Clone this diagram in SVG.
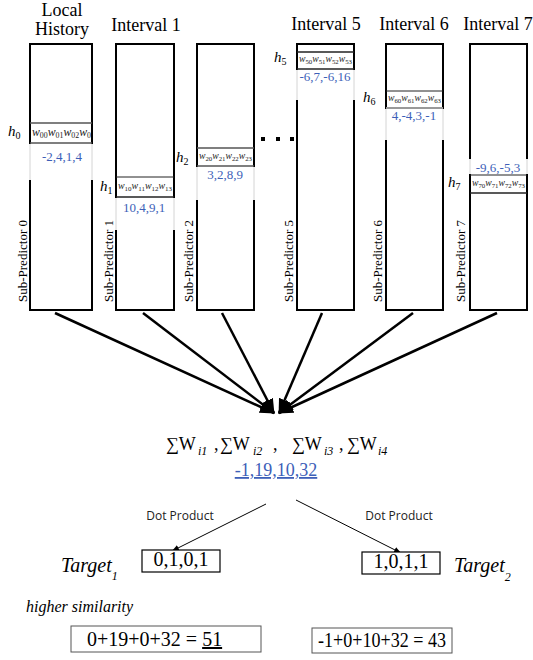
<svg xmlns="http://www.w3.org/2000/svg" width="533" height="660" viewBox="0 0 533 660">
<defs>
<marker id="ah" markerUnits="userSpaceOnUse" markerWidth="15" markerHeight="12" refX="14" refY="6" orient="auto"><path d="M0,0 L15,6 L0,12 z" fill="#000"/></marker>
<marker id="as" markerUnits="userSpaceOnUse" markerWidth="7" markerHeight="6" refX="7" refY="3" orient="auto"><path d="M0,0 L7,3 L0,6 z" fill="#000"/></marker>
</defs>
<style>
.col{fill:#fff;stroke:#000;stroke-width:2}
.rl{stroke:#555;stroke-width:1.5}
.gap{fill:#fff;stroke:none}
.gl{stroke:#d4d4d4;stroke-width:1}
.hd{font-family:"Liberation Serif",serif;font-size:18px;text-anchor:middle;fill:#000}
.sp{font-family:"Liberation Serif",serif;font-size:13px;fill:#000}
.bl{font-family:"Liberation Serif",serif;font-size:13px;fill:#3d5fb8;text-anchor:middle}
.w{font-family:"Liberation Serif",serif;font-style:italic;fill:#222}
.s{font-style:normal}
.h{font-family:"Liberation Serif",serif;font-style:italic;font-size:15px;fill:#000}
.conn{stroke:#000;stroke-width:2.5;fill:none;marker-end:url(#ah)}
.dp{stroke:#000;stroke-width:1;fill:none;marker-end:url(#as)}
.lbl{font-family:"Open Sans",sans-serif;font-size:12px;fill:#222;text-anchor:middle}
.f{font-family:"Liberation Serif",serif;font-size:18px;fill:#000}
.fs{font-family:"Liberation Serif",serif;font-size:12px;font-style:italic;fill:#000}
.tg{font-family:"Liberation Serif",serif;font-size:20px;font-style:italic;fill:#000}
.bx{fill:#fff;stroke:#000;stroke-width:1.2}
.bx2{fill:#fff;stroke:#555;stroke-width:1}
.num{font-family:"Liberation Serif",serif;font-size:20px;fill:#000}
</style>

<g id="col0">
<text class="hd" x="62" y="16" font-size="17">Local</text>
<text class="hd" x="62" y="35" font-size="17">History</text>
<rect class="col" x="30" y="44" width="62" height="266"/>
<line class="rl" x1="30" y1="123" x2="92" y2="123"/>
<line class="rl" x1="30" y1="143" x2="92" y2="143"/>
<rect class="gap" x="28" y="144" width="66" height="36"/>
<line class="gl" x1="30" y1="144" x2="30" y2="180"/>
<line class="gl" x1="92" y1="144" x2="92" y2="180"/>
<text class="w" x="32" y="136" font-size="12" textLength="59" lengthAdjust="spacingAndGlyphs">w<tspan class="s" font-size="8" dy="2">00</tspan><tspan dy="-2">w</tspan><tspan class="s" font-size="8" dy="2">01</tspan><tspan dy="-2">w</tspan><tspan class="s" font-size="8" dy="2">02</tspan><tspan dy="-2">w</tspan><tspan class="s" font-size="8" dy="2">0</tspan></text>
<text class="h" x="8" y="136">h<tspan class="s" font-size="10" dy="3">0</tspan></text>
<text class="bl" x="62" y="161">-2,4,1,4</text>
<text class="sp" transform="translate(27,302) rotate(-90)">Sub-Predictor 0</text>
</g>

<g id="col1">
<text class="hd" x="146" y="31">Interval 1</text>
<rect class="col" x="116" y="44" width="58" height="266"/>
<line x1="116" y1="177" x2="174" y2="177" stroke="#222" stroke-width="1"/>
<line x1="116" y1="197" x2="174" y2="197" stroke="#222" stroke-width="1.5"/>
<rect class="gap" x="114" y="198" width="62" height="32"/>
<line class="gl" x1="116" y1="198" x2="116" y2="230"/>
<line class="gl" x1="174" y1="198" x2="174" y2="230"/>
<text class="w" x="118" y="189" font-size="10" textLength="54" lengthAdjust="spacingAndGlyphs">w<tspan class="s" font-size="7" dy="2">10</tspan><tspan dy="-2">w</tspan><tspan class="s" font-size="7" dy="2">11</tspan><tspan dy="-2">w</tspan><tspan class="s" font-size="7" dy="2">12</tspan><tspan dy="-2">w</tspan><tspan class="s" font-size="7" dy="2">13</tspan></text>
<text class="h" x="100" y="191">h<tspan class="s" font-size="10" dy="3">1</tspan></text>
<text class="bl" x="144" y="212">10,4,9,1</text>
<text class="sp" transform="translate(113,302) rotate(-90)">Sub-Predictor 1</text>
</g>

<g id="col2">
<rect class="col" x="197" y="44" width="57" height="266"/>
<line class="rl" x1="197" y1="148" x2="254" y2="148"/>
<line class="rl" x1="197" y1="166" x2="254" y2="166"/>
<rect class="gap" x="195" y="167" width="61" height="33"/>
<line class="gl" x1="197" y1="167" x2="197" y2="200"/>
<line class="gl" x1="254" y1="167" x2="254" y2="200"/>
<text class="w" x="199" y="159" font-size="10" textLength="53" lengthAdjust="spacingAndGlyphs">w<tspan class="s" font-size="7" dy="2">20</tspan><tspan dy="-2">w</tspan><tspan class="s" font-size="7" dy="2">21</tspan><tspan dy="-2">w</tspan><tspan class="s" font-size="7" dy="2">22</tspan><tspan dy="-2">w</tspan><tspan class="s" font-size="7" dy="2">23</tspan></text>
<text class="h" x="176" y="162">h<tspan class="s" font-size="10" dy="3">2</tspan></text>
<text class="bl" x="225" y="179">3,2,8,9</text>
<text class="sp" transform="translate(193,302) rotate(-90)">Sub-Predictor 2</text>
</g>

<g id="dots">
<rect x="261" y="137" width="4" height="4" fill="#000"/>
<rect x="276" y="137" width="4" height="4" fill="#000"/>
<rect x="290" y="137" width="4" height="4" fill="#000"/>
</g>

<g id="col5">
<text class="hd" x="326" y="30">Interval 5</text>
<rect class="col" x="297" y="44" width="57" height="266"/>
<line x1="297" y1="52" x2="354" y2="52" stroke="#222" stroke-width="1.5"/>
<line x1="297" y1="69" x2="354" y2="69" stroke="#222" stroke-width="1.5"/>
<rect class="gap" x="295" y="70" width="61" height="30"/>
<line class="gl" x1="297" y1="70" x2="297" y2="100"/>
<line class="gl" x1="354" y1="70" x2="354" y2="100"/>
<text class="w" x="299" y="62" font-size="10" textLength="53" lengthAdjust="spacingAndGlyphs">w<tspan class="s" font-size="7" dy="2">50</tspan><tspan dy="-2">w</tspan><tspan class="s" font-size="7" dy="2">51</tspan><tspan dy="-2">w</tspan><tspan class="s" font-size="7" dy="2">52</tspan><tspan dy="-2">w</tspan><tspan class="s" font-size="7" dy="2">53</tspan></text>
<text class="h" x="274" y="62">h<tspan class="s" font-size="10" dy="3">5</tspan></text>
<text class="bl" x="325" y="81" font-size="14">-6,7,-6,16</text>
<text class="sp" transform="translate(293,302) rotate(-90)">Sub-Predictor 5</text>
</g>

<g id="col6">
<text class="hd" x="414" y="30">Interval 6</text>
<rect class="col" x="386" y="44" width="57" height="266"/>
<line x1="386" y1="91" x2="443" y2="91" stroke="#222" stroke-width="1"/>
<line x1="386" y1="108" x2="443" y2="108" stroke="#999" stroke-width="2"/>
<rect class="gap" x="384" y="109" width="61" height="31"/>
<line class="gl" x1="386" y1="109" x2="386" y2="140"/>
<line class="gl" x1="443" y1="109" x2="443" y2="140"/>
<text class="w" x="388" y="101" font-size="10" textLength="53" lengthAdjust="spacingAndGlyphs">w<tspan class="s" font-size="7" dy="2">60</tspan><tspan dy="-2">w</tspan><tspan class="s" font-size="7" dy="2">61</tspan><tspan dy="-2">w</tspan><tspan class="s" font-size="7" dy="2">62</tspan><tspan dy="-2">w</tspan><tspan class="s" font-size="7" dy="2">63</tspan></text>
<text class="h" x="363" y="102">h<tspan class="s" font-size="10" dy="3">6</tspan></text>
<text class="bl" x="414" y="120">4,-4,3,-1</text>
<text class="sp" transform="translate(382,302) rotate(-90)">Sub-Predictor 6</text>
</g>

<g id="col7">
<text class="hd" x="498" y="30">Interval 7</text>
<rect class="col" x="470" y="44" width="57" height="266"/>
<rect class="gap" x="468" y="159" width="61" height="15"/>
<line class="gl" x1="470" y1="159" x2="470" y2="174"/>
<line class="gl" x1="527" y1="159" x2="527" y2="174"/>
<line x1="470" y1="175" x2="527" y2="175" stroke="#222" stroke-width="1"/>
<line x1="470" y1="193" x2="527" y2="193" stroke="#222" stroke-width="1.5"/>
<text class="w" x="472" y="186" font-size="10" textLength="53" lengthAdjust="spacingAndGlyphs">w<tspan class="s" font-size="7" dy="2">70</tspan><tspan dy="-2">w</tspan><tspan class="s" font-size="7" dy="2">71</tspan><tspan dy="-2">w</tspan><tspan class="s" font-size="7" dy="2">72</tspan><tspan dy="-2">w</tspan><tspan class="s" font-size="7" dy="2">73</tspan></text>
<text class="h" x="448" y="187">h<tspan class="s" font-size="10" dy="3">7</tspan></text>
<text class="bl" x="498" y="172">-9,6,-5,3</text>
<text class="sp" transform="translate(465,302) rotate(-90)">Sub-Predictor 7</text>
</g>

<g id="connectors">
<line class="conn" x1="55" y1="313" x2="274" y2="413"/>
<line class="conn" x1="143" y1="313" x2="274" y2="413"/>
<line class="conn" x1="222" y1="313" x2="274" y2="413"/>
<line class="conn" x1="322" y1="313" x2="279" y2="413"/>
<line class="conn" x1="413" y1="313" x2="279" y2="413"/>
<line class="conn" x1="497" y1="313" x2="279" y2="413"/>
<line class="dp" x1="266" y1="504" x2="172" y2="551"/>
<line class="dp" x1="296" y1="500" x2="401" y2="553"/>
</g>

<g id="sum">
<text class="f" x="166" y="450">∑W</text><text class="fs" x="198" y="455">i1</text>
<text class="f" x="214" y="450">,</text>
<text class="f" x="220" y="450">∑W</text><text class="fs" x="253" y="455">i2</text>
<text class="f" x="273" y="450">,</text>
<text class="f" x="292" y="450">∑W</text><text class="fs" x="324" y="455">i3</text>
<text class="f" x="339" y="450">,</text>
<text class="f" x="347" y="450">∑W</text><text class="fs" x="378" y="455">i4</text>
<text x="276" y="476" font-family="Liberation Serif, serif" font-size="18" fill="#3d5fb8" text-anchor="middle" text-decoration="underline">-1,19,10,32</text>
</g>

<g id="labels">
<text class="lbl" x="180" y="520">Dot Product</text>
<text class="lbl" x="399" y="520">Dot Product</text>
</g>

<g id="target1">
<rect class="bx" x="142" y="550" width="78" height="22"/>
<text class="num" x="181" y="566" font-size="18" text-anchor="middle">0,1,0,1</text>
<text class="tg" x="61" y="572">Target<tspan font-size="12" dy="8">1</tspan></text>
</g>

<g id="target2">
<rect class="bx" x="362" y="552" width="78" height="22"/>
<text class="num" x="401" y="568" font-size="18" text-anchor="middle">1,0,1,1</text>
<text class="tg" x="454" y="572">Target<tspan font-size="12" dy="9">2</tspan></text>
</g>

<g id="result1">
<text x="26" y="612" font-family="Liberation Serif, serif" font-size="16" font-style="italic" fill="#000">higher similarity</text>
<rect class="bx2" x="71" y="626" width="190" height="26"/>
<text class="num" x="87" y="646">0+19+0+32 = <tspan text-decoration="underline">51</tspan></text>
</g>

<g id="result2">
<rect class="bx2" x="312" y="628" width="140" height="25"/>
<text class="num" x="318" y="647" font-size="18" textLength="128" lengthAdjust="spacingAndGlyphs">-1+0+10+32 = 43</text>
</g>
</svg>
